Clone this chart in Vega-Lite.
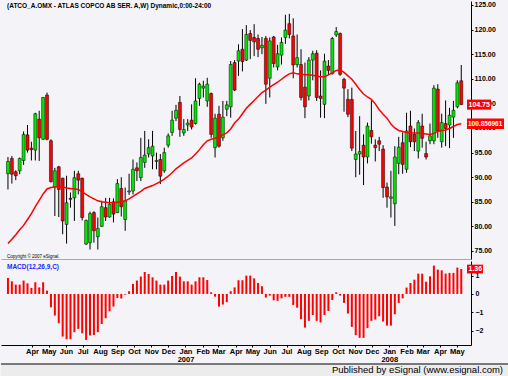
{
 "$schema": "https://vega.github.io/schema/vega-lite/v6.json",
 "background": "#F4F4F8",
 "padding": 0,
 "config": {"font": "Liberation Sans", "view": {"stroke": null}, "axis": {"grid": false, "labelOverlap": false, "labelSeparation": 0, "tickCount": 200}},
 "datasets": {
  "bars": [
   {"d":"2006-02-17","o":90.7,"h":94.1,"l":87.5,"c":93.2,"ma":76.5,"m":0.87},
   {"d":"2006-02-24","o":93.8,"h":94.3,"l":88.7,"c":90.6,"ma":77.4,"m":0.69},
   {"d":"2006-03-03","o":91.1,"h":91.4,"l":89.4,"c":90.3,"ma":78.3,"m":0.51},
   {"d":"2006-03-10","o":91.3,"h":94.0,"l":90.6,"c":93.8,"ma":79.3,"m":0.51},
   {"d":"2006-03-17","o":93.4,"h":99.3,"l":92.5,"c":98.7,"ma":80.2,"m":0.73},
   {"d":"2006-03-24","o":98.6,"h":100.6,"l":95.0,"c":95.5,"ma":81.4,"m":0.58},
   {"d":"2006-03-31","o":95.9,"h":97.2,"l":93.4,"c":95.6,"ma":82.6,"m":0.33},
   {"d":"2006-04-07","o":95.5,"h":103.1,"l":93.4,"c":102.9,"ma":84.0,"m":0.64},
   {"d":"2006-04-14","o":101.8,"h":103.5,"l":93.3,"c":98.0,"ma":85.3,"m":0.36},
   {"d":"2006-04-21","o":97.7,"h":106.3,"l":97.6,"c":106.2,"ma":86.6,"m":0.64},
   {"d":"2006-04-28","o":106.7,"h":107.2,"l":97.5,"c":97.7,"ma":87.6,"m":0.18},
   {"d":"2006-05-05","o":97.4,"h":97.7,"l":88.9,"c":89.1,"ma":87.9,"m":-0.73},
   {"d":"2006-05-12","o":88.0,"h":91.9,"l":82.1,"c":91.3,"ma":88.0,"m":-1.18},
   {"d":"2006-05-19","o":92.1,"h":92.3,"l":81.9,"c":87.5,"ma":88.1,"m":-1.6},
   {"d":"2006-05-26","o":89.8,"h":89.9,"l":78.4,"c":81.1,"ma":88.0,"m":-2.33},
   {"d":"2006-06-02","o":80.4,"h":90.3,"l":76.5,"c":84.8,"ma":87.8,"m":-2.47},
   {"d":"2006-06-09","o":85.7,"h":86.9,"l":83.8,"c":85.5,"ma":87.7,"m":-2.47},
   {"d":"2006-06-16","o":85.8,"h":91.3,"l":81.1,"c":89.9,"ma":87.6,"m":-2.09},
   {"d":"2006-06-23","o":90.7,"h":91.3,"l":86.5,"c":89.4,"ma":87.5,"m":-1.91},
   {"d":"2006-06-30","o":89.8,"h":89.9,"l":81.2,"c":81.8,"ma":87.0,"m":-2.15},
   {"d":"2006-07-07","o":76.4,"h":81.4,"l":76.2,"c":81.2,"ma":86.5,"m":-2.51},
   {"d":"2006-07-14","o":76.7,"h":83.0,"l":75.3,"c":82.6,"ma":86.0,"m":-2.27},
   {"d":"2006-07-21","o":82.8,"h":83.1,"l":76.7,"c":79.1,"ma":85.6,"m":-2.24},
   {"d":"2006-07-28","o":77.9,"h":81.8,"l":75.3,"c":79.6,"ma":85.2,"m":-2.09},
   {"d":"2006-08-04","o":80.0,"h":85.2,"l":79.9,"c":84.0,"ma":85.0,"m":-1.64},
   {"d":"2006-08-11","o":83.8,"h":85.8,"l":81.1,"c":81.9,"ma":84.9,"m":-1.33},
   {"d":"2006-08-18","o":81.9,"h":85.8,"l":81.8,"c":84.5,"ma":84.8,"m":-0.95},
   {"d":"2006-08-25","o":85.0,"h":85.7,"l":80.8,"c":82.5,"ma":84.8,"m":-0.69},
   {"d":"2006-09-01","o":82.8,"h":89.6,"l":82.7,"c":88.7,"ma":84.9,"m":-0.22},
   {"d":"2006-09-08","o":87.7,"h":90.0,"l":82.0,"c":84.0,"ma":85.0,"m":-0.25},
   {"d":"2006-09-15","o":81.4,"h":87.9,"l":79.1,"c":85.2,"ma":85.2,"m":-0.04},
   {"d":"2006-09-22","o":87.0,"h":90.7,"l":86.4,"c":87.2,"ma":85.6,"m":0.15},
   {"d":"2006-09-29","o":87.2,"h":93.6,"l":86.5,"c":91.6,"ma":86.1,"m":0.55},
   {"d":"2006-10-06","o":91.9,"h":93.0,"l":89.2,"c":91.3,"ma":86.6,"m":0.73},
   {"d":"2006-10-13","o":89.9,"h":98.0,"l":89.2,"c":94.0,"ma":87.1,"m":0.95},
   {"d":"2006-10-20","o":93.0,"h":99.4,"l":91.9,"c":94.5,"ma":87.7,"m":1.2},
   {"d":"2006-10-27","o":94.7,"h":97.7,"l":94.0,"c":96.0,"ma":88.0,"m":1.09},
   {"d":"2006-11-03","o":94.3,"h":99.4,"l":91.6,"c":96.3,"ma":88.3,"m":0.91},
   {"d":"2006-11-10","o":93.2,"h":95.0,"l":91.6,"c":93.4,"ma":88.7,"m":0.73},
   {"d":"2006-11-17","o":93.6,"h":94.7,"l":88.6,"c":90.2,"ma":89.1,"m":0.51},
   {"d":"2006-11-24","o":91.3,"h":96.0,"l":90.9,"c":95.0,"ma":89.6,"m":0.51},
   {"d":"2006-12-01","o":96.5,"h":98.9,"l":96.0,"c":98.4,"ma":90.2,"m":0.73},
   {"d":"2006-12-08","o":99.1,"h":103.5,"l":98.4,"c":101.6,"ma":90.9,"m":0.98},
   {"d":"2006-12-15","o":102.0,"h":104.7,"l":101.4,"c":103.6,"ma":91.7,"m":1.2},
   {"d":"2006-12-22","o":105.2,"h":106.5,"l":98.2,"c":99.7,"ma":92.3,"m":0.95},
   {"d":"2006-12-29","o":99.0,"h":101.8,"l":98.4,"c":99.7,"ma":92.9,"m":0.69},
   {"d":"2007-01-05","o":100.6,"h":101.8,"l":99.4,"c":101.0,"ma":93.4,"m":0.69},
   {"d":"2007-01-12","o":101.6,"h":104.8,"l":99.7,"c":100.2,"ma":93.9,"m":0.51},
   {"d":"2007-01-19","o":100.9,"h":110.1,"l":100.7,"c":105.5,"ma":94.7,"m":0.69},
   {"d":"2007-01-26","o":106.0,"h":109.2,"l":104.5,"c":108.9,"ma":95.6,"m":0.91},
   {"d":"2007-02-02","o":108.1,"h":109.6,"l":106.2,"c":108.5,"ma":96.6,"m":0.91},
   {"d":"2007-02-09","o":105.5,"h":110.2,"l":104.3,"c":108.9,"ma":97.4,"m":0.76},
   {"d":"2007-02-16","o":107.0,"h":107.2,"l":98.0,"c":98.7,"ma":97.7,"m":0.09},
   {"d":"2007-02-23","o":96.0,"h":102.9,"l":94.0,"c":102.0,"ma":97.9,"m":-0.15},
   {"d":"2007-03-02","o":102.8,"h":104.5,"l":96.0,"c":96.3,"ma":98.2,"m":-0.69},
   {"d":"2007-03-09","o":98.0,"h":105.5,"l":97.4,"c":102.2,"ma":98.6,"m":-0.58},
   {"d":"2007-03-16","o":103.8,"h":105.5,"l":102.4,"c":104.7,"ma":99.0,"m":-0.45},
   {"d":"2007-03-23","o":104.3,"h":113.6,"l":102.1,"c":112.9,"ma":99.8,"m":0.15},
   {"d":"2007-03-30","o":113.3,"h":113.8,"l":107.5,"c":107.7,"ma":101.0,"m":0.36},
   {"d":"2007-04-06","o":113.6,"h":117.0,"l":110.6,"c":115.7,"ma":101.8,"m":0.75},
   {"d":"2007-04-13","o":116.0,"h":120.1,"l":111.5,"c":113.5,"ma":102.9,"m":0.75},
   {"d":"2007-04-20","o":113.8,"h":120.9,"l":113.6,"c":119.0,"ma":104.0,"m":1.0},
   {"d":"2007-04-27","o":119.2,"h":119.9,"l":114.0,"c":117.8,"ma":104.8,"m":1.0},
   {"d":"2007-05-04","o":118.4,"h":121.1,"l":114.6,"c":117.5,"ma":105.6,"m":0.85},
   {"d":"2007-05-11","o":118.2,"h":119.0,"l":114.4,"c":116.0,"ma":106.4,"m":0.6},
   {"d":"2007-05-18","o":116.3,"h":118.5,"l":115.0,"c":116.8,"ma":107.2,"m":0.42},
   {"d":"2007-05-25","o":118.2,"h":118.7,"l":104.9,"c":108.9,"ma":107.7,"m":-0.2},
   {"d":"2007-06-01","o":110.1,"h":118.4,"l":106.2,"c":117.7,"ma":108.3,"m":-0.09},
   {"d":"2007-06-08","o":118.5,"h":118.7,"l":112.3,"c":113.1,"ma":108.8,"m":-0.35},
   {"d":"2007-06-15","o":112.4,"h":116.9,"l":111.7,"c":115.1,"ma":109.3,"m":-0.38},
   {"d":"2007-06-22","o":114.8,"h":118.4,"l":112.9,"c":117.4,"ma":109.9,"m":-0.24},
   {"d":"2007-06-29","o":118.4,"h":123.0,"l":117.1,"c":119.9,"ma":110.5,"m":-0.16},
   {"d":"2007-07-06","o":121.2,"h":123.2,"l":118.2,"c":119.0,"ma":111.0,"m":-0.16},
   {"d":"2007-07-13","o":118.7,"h":122.3,"l":110.1,"c":112.8,"ma":111.2,"m":-0.6},
   {"d":"2007-07-20","o":112.9,"h":119.0,"l":112.3,"c":114.3,"ma":111.0,"m":-0.75},
   {"d":"2007-07-27","o":112.9,"h":116.0,"l":105.6,"c":106.2,"ma":110.9,"m":-1.38},
   {"d":"2007-08-03","o":108.3,"h":113.3,"l":102.0,"c":104.3,"ma":110.8,"m":-1.84},
   {"d":"2007-08-10","o":106.5,"h":114.4,"l":105.6,"c":113.8,"ma":110.8,"m":-1.47},
   {"d":"2007-08-17","o":113.8,"h":115.7,"l":109.7,"c":115.1,"ma":110.7,"m":-1.15},
   {"d":"2007-08-24","o":115.2,"h":115.8,"l":105.5,"c":106.2,"ma":110.5,"m":-1.47},
   {"d":"2007-08-31","o":106.5,"h":111.7,"l":102.1,"c":106.0,"ma":110.4,"m":-1.56},
   {"d":"2007-09-07","o":104.8,"h":115.1,"l":102.0,"c":113.6,"ma":110.4,"m":-1.15},
   {"d":"2007-09-14","o":112.6,"h":113.8,"l":110.8,"c":111.7,"ma":110.8,"m":-0.93},
   {"d":"2007-09-21","o":111.0,"h":118.5,"l":110.9,"c":118.2,"ma":111.2,"m":-0.33},
   {"d":"2007-09-28","o":118.9,"h":120.5,"l":118.5,"c":119.6,"ma":111.7,"m":0.09},
   {"d":"2007-10-05","o":119.2,"h":119.4,"l":110.6,"c":110.9,"ma":111.8,"m":-0.09},
   {"d":"2007-10-12","o":109.9,"h":110.2,"l":103.3,"c":108.1,"ma":111.3,"m":-0.49},
   {"d":"2007-10-19","o":105.8,"h":107.9,"l":102.2,"c":102.8,"ma":110.6,"m":-1.07},
   {"d":"2007-10-26","o":105.8,"h":108.2,"l":95.3,"c":95.9,"ma":109.9,"m":-1.8},
   {"d":"2007-11-02","o":93.6,"h":99.4,"l":90.0,"c":94.7,"ma":108.9,"m":-2.25},
   {"d":"2007-11-09","o":94.7,"h":102.4,"l":90.5,"c":95.2,"ma":107.8,"m":-2.4},
   {"d":"2007-11-16","o":96.5,"h":98.7,"l":88.4,"c":94.1,"ma":106.9,"m":-2.4},
   {"d":"2007-11-23","o":94.1,"h":101.1,"l":92.8,"c":100.4,"ma":106.3,"m":-1.87},
   {"d":"2007-11-30","o":99.5,"h":105.6,"l":96.8,"c":98.2,"ma":105.8,"m":-1.47},
   {"d":"2007-12-07","o":96.5,"h":97.7,"l":93.2,"c":96.0,"ma":104.9,"m":-1.4},
   {"d":"2007-12-14","o":97.4,"h":98.2,"l":95.3,"c":96.7,"ma":103.7,"m":-1.22},
   {"d":"2007-12-21","o":95.7,"h":96.5,"l":85.8,"c":87.9,"ma":102.8,"m":-1.51},
   {"d":"2007-12-28","o":88.0,"h":88.9,"l":83.8,"c":86.0,"ma":102.0,"m":-1.73},
   {"d":"2008-01-04","o":85.7,"h":91.3,"l":81.8,"c":86.0,"ma":100.8,"m":-1.73},
   {"d":"2008-01-11","o":84.6,"h":96.3,"l":80.1,"c":94.1,"ma":100.0,"m":-1.11},
   {"d":"2008-01-18","o":92.8,"h":98.2,"l":90.6,"c":96.1,"ma":99.5,"m":-0.49},
   {"d":"2008-01-25","o":97.0,"h":99.1,"l":90.7,"c":92.6,"ma":99.3,"m":-0.24},
   {"d":"2008-02-01","o":91.6,"h":103.1,"l":90.9,"c":99.4,"ma":99.1,"m":0.35},
   {"d":"2008-02-08","o":100.4,"h":103.5,"l":96.1,"c":97.2,"ma":99.0,"m":0.6},
   {"d":"2008-02-15","o":98.7,"h":99.9,"l":95.3,"c":97.2,"ma":99.0,"m":0.78},
   {"d":"2008-02-22","o":95.3,"h":101.6,"l":93.8,"c":101.1,"ma":99.0,"m":1.11},
   {"d":"2008-02-29","o":100.4,"h":102.9,"l":96.0,"c":97.9,"ma":98.9,"m":1.11},
   {"d":"2008-03-07","o":94.8,"h":97.2,"l":93.6,"c":94.1,"ma":98.8,"m":0.67},
   {"d":"2008-03-14","o":97.4,"h":100.9,"l":96.7,"c":98.4,"ma":98.7,"m":0.96},
   {"d":"2008-03-21","o":97.4,"h":108.7,"l":96.7,"c":108.1,"ma":98.9,"m":1.55},
   {"d":"2008-03-28","o":107.9,"h":108.9,"l":98.0,"c":99.4,"ma":99.3,"m":1.33},
   {"d":"2008-04-04","o":97.2,"h":102.9,"l":96.0,"c":101.1,"ma":99.5,"m":1.29},
   {"d":"2008-04-11","o":100.9,"h":105.6,"l":96.3,"c":99.9,"ma":99.6,"m":1.11},
   {"d":"2008-04-18","o":100.6,"h":104.1,"l":95.9,"c":102.6,"ma":99.9,"m":1.15},
   {"d":"2008-04-25","o":102.2,"h":105.5,"l":98.0,"c":103.6,"ma":100.3,"m":1.15},
   {"d":"2008-05-02","o":104.3,"h":109.7,"l":104.0,"c":109.2,"ma":100.7,"m":1.44},
   {"d":"2008-05-09","o":109.6,"h":112.8,"l":104.7,"c":104.75,"ma":100.86,"m":1.36}
  ]
 },
 "spacing": 0,
 "vconcat": [
  {
   "spacing": 2,
   "vconcat": [
    {
     "width": 470,
     "height": 258,
     "layer": [
      {
       "data": {"name": "bars"},
       "mark": {"type": "rule", "color": "#000000", "strokeWidth": 1},
       "encoding": {
        "x": {"field": "d", "type": "temporal",
              "scale": {"type": "utc", "domain": [{"year":2006,"month":2,"date":13,"hours":12,"utc":true},{"year":2008,"month":5,"date":17,"hours":12,"utc":true}]},
              "axis": {"labels": false, "ticks": false, "title": null, "domainColor": "#A8A8A8", "orient": "bottom"}},
        "y": {"field": "l", "type": "quantitative",
              "scale": {"domain": [73.37, 125.81], "nice": false, "zero": false},
              "axis": {"orient": "right", "title": null, "values": [75,80,85,90,95,100,105,110,115,120,125], "tickCount": 200, "format": ".2f",
                       "labelOverlap": false, "labelFontSize": 7, "labelFontWeight": "bold",
                       "labelColor": "#000000", "tickSize": 2, "tickColor": "#000000", "domainColor": "#000000", "labelPadding": 1}},
        "y2": {"field": "h"}
       }
      },
      {
       "data": {"name": "bars"},
       "mark": {"type": "bar", "size": 3, "stroke": "#000000", "strokeWidth": 0.5},
       "encoding": {
        "x": {"field": "d", "type": "temporal"},
        "y": {"field": "o", "type": "quantitative"},
        "y2": {"field": "c"},
        "color": {"condition": {"test": "datum.c >= datum.o", "value": "#00E600"}, "value": "#FF0000"}
       }
      },
      {
       "data": {"name": "bars"},
       "mark": {"type": "line", "color": "#FF0000", "strokeWidth": 1.5},
       "encoding": {
        "x": {"field": "d", "type": "temporal"},
        "y": {"field": "ma", "type": "quantitative"}
       }
      },
      {
       "data": {"values": [{"t": "(ATCO_A.OMX - ATLAS COPCO AB SER. A,W) Dynamic,0:00-24:00"}]},
       "mark": {"type": "text", "align": "left", "baseline": "top", "dx": 1, "dy": 2, "fontSize": 6.5, "fontWeight": "bold", "color": "#000000"},
       "encoding": {
        "x": {"datum": {"year":2006,"month":2,"date":13,"hours":12,"utc":true}, "type": "temporal"},
        "y": {"datum": 125.81, "type": "quantitative"},
        "text": {"field": "t"}
       }
      },
      {
       "data": {"values": [{"t": "Copyright © 2007 eSignal."}]},
       "mark": {"type": "text", "align": "left", "baseline": "bottom", "dx": 1, "dy": 0, "fontSize": 4.5, "color": "#000000"},
       "encoding": {
        "x": {"datum": {"year":2006,"month":2,"date":13,"hours":12,"utc":true}, "type": "temporal"},
        "y": {"datum": 73.37, "type": "quantitative"},
        "text": {"field": "t"}
       }
      },
      {
       "data": {"values": [{"v": 104.75, "t": "104.75"}]},
       "layer": [
        {"mark": {"type": "point", "shape": "M-1,-0.42H1V0.42H-1Z", "size": 576, "filled": true, "color": "#FF0000", "opacity": 1, "xOffset": 13},
         "encoding": {"x": {"datum": {"year":2008,"month":5,"date":17,"hours":12,"utc":true}, "type": "temporal"}, "y": {"field": "v", "type": "quantitative"}}},
        {"mark": {"type": "text", "align": "left", "baseline": "middle", "dx": 2.5, "color": "#FFFFFF", "fontSize": 7, "fontWeight": "bold"},
         "encoding": {"x": {"datum": {"year":2008,"month":5,"date":17,"hours":12,"utc":true}, "type": "temporal"}, "y": {"field": "v", "type": "quantitative"}, "text": {"field": "t"}}}
       ]
      },
      {
       "data": {"values": [{"v": 100.856961, "t": "100.856961"}]},
       "layer": [
        {"mark": {"type": "point", "shape": "M-1,-0.28H1V0.28H-1Z", "size": 1369, "filled": true, "color": "#FF0000", "opacity": 1, "xOffset": 19.5},
         "encoding": {"x": {"datum": {"year":2008,"month":5,"date":17,"hours":12,"utc":true}, "type": "temporal"}, "y": {"field": "v", "type": "quantitative"}}},
        {"mark": {"type": "text", "align": "left", "baseline": "middle", "dx": 2, "color": "#FFFFFF", "fontSize": 6.5, "fontWeight": "bold"},
         "encoding": {"x": {"datum": {"year":2008,"month":5,"date":17,"hours":12,"utc":true}, "type": "temporal"}, "y": {"field": "v", "type": "quantitative"}, "text": {"field": "t"}}}
       ]
      }
     ]
    },
    {
     "width": 470,
     "height": 84,
     "layer": [
      {
       "data": {"name": "bars"},
       "mark": {"type": "bar", "size": 2, "color": "#FF0000"},
       "encoding": {
        "x": {"field": "d", "type": "temporal",
              "scale": {"type": "utc", "domain": [{"year":2006,"month":2,"date":13,"hours":12,"utc":true},{"year":2008,"month":5,"date":17,"hours":12,"utc":true}]},
              "axis": {"title": null, "orient": "bottom", "tickCount": 200,
                       "values": [
                        {"year":2006,"month":4,"date":1,"utc":true},{"year":2006,"month":5,"date":1,"utc":true},{"year":2006,"month":6,"date":1,"utc":true},
                        {"year":2006,"month":7,"date":1,"utc":true},{"year":2006,"month":8,"date":1,"utc":true},{"year":2006,"month":9,"date":1,"utc":true},
                        {"year":2006,"month":10,"date":1,"utc":true},{"year":2006,"month":11,"date":1,"utc":true},{"year":2006,"month":12,"date":1,"utc":true},
                        {"year":2007,"month":1,"date":1,"utc":true},{"year":2007,"month":2,"date":1,"utc":true},{"year":2007,"month":3,"date":1,"utc":true},
                        {"year":2007,"month":4,"date":1,"utc":true},{"year":2007,"month":5,"date":1,"utc":true},{"year":2007,"month":6,"date":1,"utc":true},
                        {"year":2007,"month":7,"date":1,"utc":true},{"year":2007,"month":8,"date":1,"utc":true},{"year":2007,"month":9,"date":1,"utc":true},
                        {"year":2007,"month":10,"date":1,"utc":true},{"year":2007,"month":11,"date":1,"utc":true},{"year":2007,"month":12,"date":1,"utc":true},
                        {"year":2008,"month":1,"date":1,"utc":true},{"year":2008,"month":2,"date":1,"utc":true},{"year":2008,"month":3,"date":1,"utc":true},
                        {"year":2008,"month":4,"date":1,"utc":true},{"year":2008,"month":5,"date":1,"utc":true}
                       ],
                       "labelExpr": "utcmonth(datum.value) == 0 ? [utcFormat(datum.value, '%b'), utcFormat(datum.value, '%Y')] : utcFormat(datum.value, '%b')",
                       "labelFontSize": 7.5, "labelFontWeight": "bold", "labelColor": "#000000", "labelLineHeight": 8,
                       "labelOverlap": false, "labelFlush": false, "labelBound": false, "labelPadding": 0,
                       "tickSize": 2, "tickColor": "#000000", "domainColor": "#000000"}},
        "y": {"field": "m", "type": "quantitative",
              "scale": {"domain": [-2.79, 1.8], "nice": false, "zero": false},
              "axis": {"orient": "right", "title": null, "values": [-2,-1,0,1], "tickCount": 200, "format": "d",
                       "labelOverlap": false, "labelFontSize": 7, "labelFontWeight": "bold",
                       "labelColor": "#000000", "tickSize": 2, "tickColor": "#000000", "domainColor": "#000000", "labelPadding": 2}},
        "y2": {"datum": 0}
       }
      },
      {
       "data": {"values": [{"t": "MACD(12,26,9,C)"}]},
       "mark": {"type": "text", "align": "left", "baseline": "top", "dx": 1, "dy": 3, "fontSize": 6.5, "fontWeight": "bold", "color": "#1F1FFF"},
       "encoding": {
        "x": {"datum": {"year":2006,"month":2,"date":13,"hours":12,"utc":true}, "type": "temporal"},
        "y": {"datum": 1.8, "type": "quantitative"},
        "text": {"field": "t"}
       }
      },
      {
       "data": {"values": [{"v": 1.36, "t": "1.36"}]},
       "layer": [
        {"mark": {"type": "point", "shape": "M-1,-0.55H1V0.55H-1Z", "size": 256, "filled": true, "color": "#FF0000", "opacity": 1, "xOffset": 9},
         "encoding": {"x": {"datum": {"year":2008,"month":5,"date":17,"hours":12,"utc":true}, "type": "temporal"}, "y": {"field": "v", "type": "quantitative"}}},
        {"mark": {"type": "text", "align": "left", "baseline": "middle", "dx": 2.5, "color": "#FFFFFF", "fontSize": 7, "fontWeight": "bold"},
         "encoding": {"x": {"datum": {"year":2008,"month":5,"date":17,"hours":12,"utc":true}, "type": "temporal"}, "y": {"field": "v", "type": "quantitative"}, "text": {"field": "t"}}}
       ]
      }
     ]
    }
   ]
  },
  {
   "width": 508,
   "height": 16,
   "view": {"fill": "#ECECEC", "stroke": null},
   "data": {"values": [{"t": "Published by eSignal (www.esignal.com)"}]},
   "layer": [
    {"mark": {"type": "rule", "color": "#000000", "strokeWidth": 1},
     "encoding": {"y": {"datum": 1, "type": "quantitative", "scale": {"domain": [0, 1]}, "axis": null}}},
    {"mark": {"type": "text", "align": "right", "baseline": "middle", "fontSize": 9.5, "dx": -6, "color": "#000000"},
     "encoding": {
      "x": {"datum": 1, "type": "quantitative", "scale": {"domain": [0, 1]}, "axis": null},
      "y": {"datum": 0.62, "type": "quantitative"},
      "text": {"field": "t"}
     }}
   ]
  }
 ]
}
